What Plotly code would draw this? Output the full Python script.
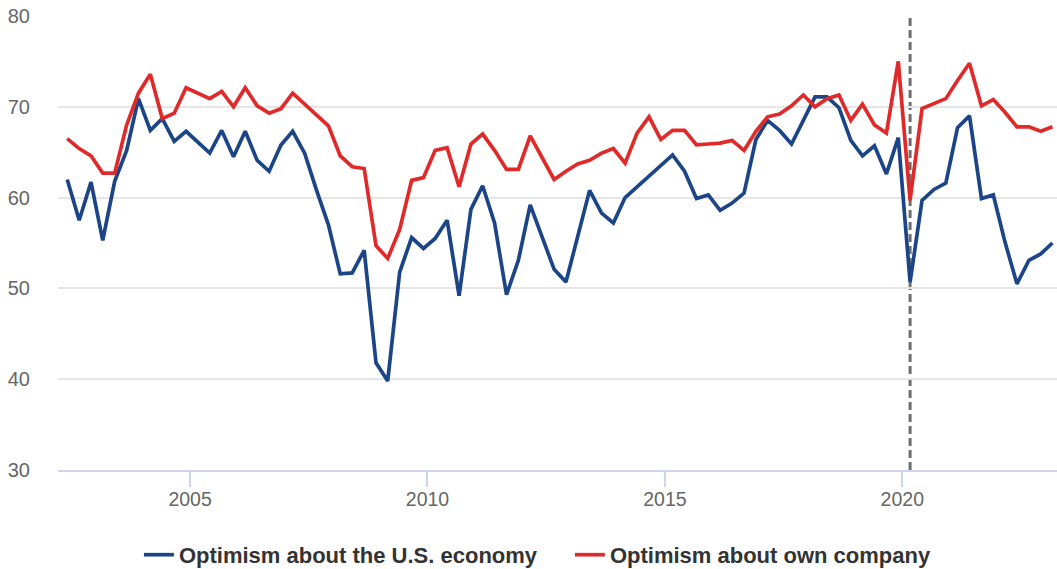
import pandas as pd
import plotly.graph_objects as go

# Quarterly survey dates (Mar/Jun/Sep/Dec), Jun 2002 - Mar 2023
dates = pd.date_range("2002-06-01", periods=84, freq="3MS")

economy = [62.0, 57.5, 61.7, 55.3, 61.8, 65.2, 70.9, 67.4, 68.7, 66.2,
           67.3, 66.1, 64.9, 67.4, 64.5, 67.3, 64.1, 62.9, 65.8, 67.3,
           64.9, 60.8, 57.0, 51.6, 51.7, 54.2, 41.8, 39.8, 51.8, 55.6,
           54.4, 55.5, 57.5, 49.2, 58.7, 61.3, 57.2, 49.3, 53.1, 59.2,
           55.7, 52.1, 50.7, 55.8, 60.8, 58.3, 57.2, 60.0, 61.2, 62.4,
           63.6, 64.7, 62.9, 59.9, 60.3, 58.6, 59.4, 60.5, 66.4, 68.5,
           67.4, 65.9, 68.5, 71.1, 71.1, 69.9, 66.3, 64.6, 65.7, 62.6,
           66.6, 50.7, 59.7, 60.9, 61.6, 67.7, 69.0, 59.9, 60.3, 55.1,
           50.5, 53.1, 53.8, 55.0]

company = [66.5, 65.4, 64.6, 62.7, 62.7, 68.0, 71.5, 73.6, 68.7, 69.3,
           72.1, 71.5, 70.9, 71.7, 70.0, 72.1, 70.1, 69.3, 69.8, 71.5,
           70.3, 69.1, 67.9, 64.6, 63.4, 63.2, 54.7, 53.3, 56.5, 61.9,
           62.2, 65.2, 65.5, 61.2, 65.9, 67.0, 65.2, 63.1, 63.1, 66.8,
           64.3, 62.0, 62.9, 63.7, 64.1, 64.9, 65.4, 63.8, 67.1, 68.9,
           66.4, 67.4, 67.4, 65.8, 65.9, 66.0, 66.3, 65.2, 67.3, 68.9,
           69.2, 70.1, 71.3, 70.0, 70.9, 71.3, 68.5, 70.3, 68.0, 67.1,
           75.0, 59.7, 69.8, 70.4, 70.9, 72.9, 74.8, 70.1, 70.8, 69.4,
           67.8, 67.8, 67.3, 67.8]

series_names = ["Optimism about the U.S. economy", "Optimism about own company"]
marker_date = "2020-03-01"

BLUE = "#1c4587"
RED = "#e02a2a"
FONT = "Liberation Sans, Arial, sans-serif"

fig = go.Figure()
fig.add_trace(go.Scatter(x=dates, y=economy, mode="lines", name=series_names[0],
                         line=dict(color=BLUE, width=3.7)))
fig.add_trace(go.Scatter(x=dates, y=company, mode="lines", name=series_names[1],
                         line=dict(color=RED, width=3.7)))

fig.add_shape(type="line", x0=marker_date, x1=marker_date, xref="x",
              y0=0, y1=1, yref="paper",
              line=dict(color="#6e6e6e", width=3, dash="8px,4px"), layer="below")

fig.update_layout(
    width=1057, height=569,
    margin=dict(l=58, r=0, t=16, b=99, autoexpand=False),
    plot_bgcolor="white", paper_bgcolor="white",
    font=dict(family=FONT, color="#666666"),
    showlegend=True,
    legend=dict(orientation="h", x=0.081, xanchor="left",
                y=-0.187, yanchor="middle",
                entrywidth=386, entrywidthmode="pixels",
                font=dict(size=22, color="#333333", family=FONT, weight="bold"),
                tracegroupgap=0),
    xaxis=dict(type="date", range=["2002-03-22", "2023-04-05"],
               tick0="2000-01-01", dtick="M60", tickformat="%Y",
               showgrid=False, showline=True, linecolor="#ccd6eb", linewidth=2,
               ticks="outside", ticklen=15, tickwidth=2, tickcolor="#ccd6eb",
               ticklabelstandoff=-4,
               tickfont=dict(size=19.5, color="#666666", family=FONT),
               zeroline=False),
    yaxis=dict(range=[30, 80], dtick=10, tick0=30,
               showgrid=True, gridcolor="#e6e6e6", gridwidth=1.5,
               showline=False, zeroline=False, ticks="",
               ticklabelstandoff=27,
               tickfont=dict(size=20, color="#666666", family=FONT)),
)

fig.write_html("out.html", config={"displayModeBar": False},
               post_script="document.body.style.margin='0';document.body.style.padding='0';")
